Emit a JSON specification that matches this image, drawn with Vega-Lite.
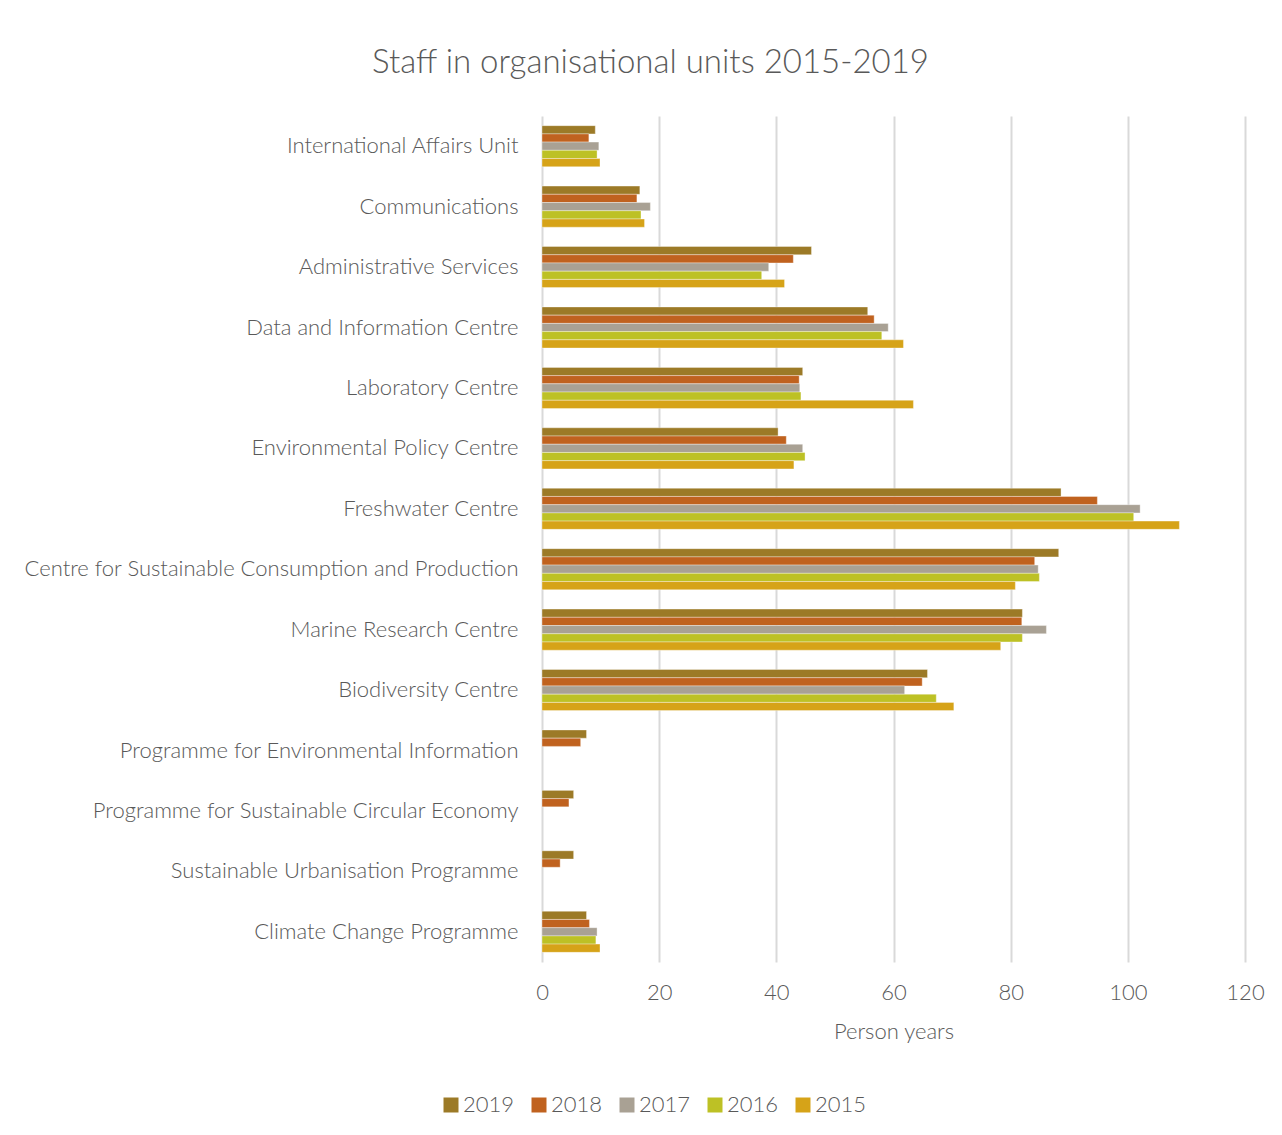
{
  "$schema": "https://vega.github.io/schema/vega-lite/v6.json",
  "autosize": {"type": "none"},
  "width": 703,
  "height": 846,
  "padding": {"left": 542, "top": 116, "right": 37, "bottom": 173},
  "background": "white",
  "title": {
    "text": "Staff in organisational units 2015-2019",
    "fontSize": 33,
    "font": "Lato",
    "fontWeight": 300,
    "color": "#595959",
    "anchor": "middle",
    "dx": -243,
    "offset": 36
  },
  "data": {
    "values": [
      {"unit": "International Affairs Unit", "year": "2019", "value": 9.1},
      {"unit": "International Affairs Unit", "year": "2018", "value": 8.0},
      {"unit": "International Affairs Unit", "year": "2017", "value": 9.7},
      {"unit": "International Affairs Unit", "year": "2016", "value": 9.4},
      {"unit": "International Affairs Unit", "year": "2015", "value": 9.9},
      {"unit": "Communications", "year": "2019", "value": 16.7},
      {"unit": "Communications", "year": "2018", "value": 16.2},
      {"unit": "Communications", "year": "2017", "value": 18.5},
      {"unit": "Communications", "year": "2016", "value": 16.9},
      {"unit": "Communications", "year": "2015", "value": 17.5},
      {"unit": "Administrative Services", "year": "2019", "value": 46.0},
      {"unit": "Administrative Services", "year": "2018", "value": 42.9},
      {"unit": "Administrative Services", "year": "2017", "value": 38.7},
      {"unit": "Administrative Services", "year": "2016", "value": 37.5},
      {"unit": "Administrative Services", "year": "2015", "value": 41.4},
      {"unit": "Data and Information Centre", "year": "2019", "value": 55.6},
      {"unit": "Data and Information Centre", "year": "2018", "value": 56.7},
      {"unit": "Data and Information Centre", "year": "2017", "value": 59.1},
      {"unit": "Data and Information Centre", "year": "2016", "value": 58.0},
      {"unit": "Data and Information Centre", "year": "2015", "value": 61.7},
      {"unit": "Laboratory Centre", "year": "2019", "value": 44.5},
      {"unit": "Laboratory Centre", "year": "2018", "value": 43.9},
      {"unit": "Laboratory Centre", "year": "2017", "value": 44.0},
      {"unit": "Laboratory Centre", "year": "2016", "value": 44.2},
      {"unit": "Laboratory Centre", "year": "2015", "value": 63.4},
      {"unit": "Environmental Policy Centre", "year": "2019", "value": 40.3},
      {"unit": "Environmental Policy Centre", "year": "2018", "value": 41.7},
      {"unit": "Environmental Policy Centre", "year": "2017", "value": 44.5},
      {"unit": "Environmental Policy Centre", "year": "2016", "value": 44.9},
      {"unit": "Environmental Policy Centre", "year": "2015", "value": 43.0},
      {"unit": "Freshwater Centre", "year": "2019", "value": 88.6},
      {"unit": "Freshwater Centre", "year": "2018", "value": 94.8},
      {"unit": "Freshwater Centre", "year": "2017", "value": 102.1},
      {"unit": "Freshwater Centre", "year": "2016", "value": 101.0},
      {"unit": "Freshwater Centre", "year": "2015", "value": 108.8},
      {"unit": "Centre for Sustainable Consumption and Production", "year": "2019", "value": 88.2},
      {"unit": "Centre for Sustainable Consumption and Production", "year": "2018", "value": 84.1},
      {"unit": "Centre for Sustainable Consumption and Production", "year": "2017", "value": 84.7},
      {"unit": "Centre for Sustainable Consumption and Production", "year": "2016", "value": 84.9},
      {"unit": "Centre for Sustainable Consumption and Production", "year": "2015", "value": 80.8},
      {"unit": "Marine Research Centre", "year": "2019", "value": 82.0},
      {"unit": "Marine Research Centre", "year": "2018", "value": 81.9},
      {"unit": "Marine Research Centre", "year": "2017", "value": 86.1},
      {"unit": "Marine Research Centre", "year": "2016", "value": 82.0},
      {"unit": "Marine Research Centre", "year": "2015", "value": 78.3},
      {"unit": "Biodiversity Centre", "year": "2019", "value": 65.8},
      {"unit": "Biodiversity Centre", "year": "2018", "value": 64.9},
      {"unit": "Biodiversity Centre", "year": "2017", "value": 61.9},
      {"unit": "Biodiversity Centre", "year": "2016", "value": 67.3},
      {"unit": "Biodiversity Centre", "year": "2015", "value": 70.3},
      {"unit": "Programme for Environmental Information", "year": "2019", "value": 7.6},
      {"unit": "Programme for Environmental Information", "year": "2018", "value": 6.6},
      {"unit": "Programme for Sustainable Circular Economy", "year": "2019", "value": 5.4},
      {"unit": "Programme for Sustainable Circular Economy", "year": "2018", "value": 4.6},
      {"unit": "Sustainable Urbanisation Programme", "year": "2019", "value": 5.4},
      {"unit": "Sustainable Urbanisation Programme", "year": "2018", "value": 3.1},
      {"unit": "Climate Change Programme", "year": "2019", "value": 7.6},
      {"unit": "Climate Change Programme", "year": "2018", "value": 8.1},
      {"unit": "Climate Change Programme", "year": "2017", "value": 9.4},
      {"unit": "Climate Change Programme", "year": "2016", "value": 9.2},
      {"unit": "Climate Change Programme", "year": "2015", "value": 9.9}
    ]
  },
  "mark": {"type": "bar", "stroke": "white", "strokeWidth": 0.6, "strokeOpacity": 0.6},
  "encoding": {
    "y": {
      "field": "unit",
      "type": "nominal",
      "sort": null,
      "scale": {"paddingInner": 0.32, "paddingOuter": 0.16},
      "axis": {
        "title": null,
        "domain": false,
        "ticks": false,
        "labelPadding": 24,
        "labelLimit": 700,
        "labelFontSize": 22,
        "labelFont": "Lato",
        "labelFontWeight": 300,
        "labelColor": "#595959"
      }
    },
    "yOffset": {
      "field": "year",
      "type": "nominal",
      "scale": {"domain": ["2019", "2018", "2017", "2016", "2015"], "paddingInner": 0, "paddingOuter": 0}
    },
    "x": {
      "field": "value",
      "type": "quantitative",
      "scale": {"domain": [0, 120], "nice": false},
      "axis": {
        "title": "Person years",
        "values": [0, 20, 40, 60, 80, 100, 120],
        "domain": false,
        "ticks": false,
        "grid": true,
        "gridColor": "#d9d9d9",
        "gridWidth": 2,
        "labelFlush": false,
        "labelPadding": 20,
        "labelFontSize": 22,
        "labelFont": "Lato",
        "labelFontWeight": 300,
        "labelColor": "#595959",
        "titleFontSize": 22,
        "titleFont": "Lato",
        "titleFontWeight": 300,
        "titleColor": "#595959",
        "titlePadding": 18
      }
    },
    "color": {
      "field": "year",
      "type": "nominal",
      "scale": {
        "domain": ["2019", "2018", "2017", "2016", "2015"],
        "range": ["#9C7A27", "#C0621F", "#A9A194", "#BDC125", "#D6A318"]
      },
      "legend": {
        "title": null,
        "orient": "none",
        "direction": "horizontal",
        "legendX": -102,
        "legendY": 978,
        "symbolType": "square",
        "symbolSize": 225,
        "symbolStrokeWidth": 0,
        "labelFontSize": 22,
        "labelFont": "Lato",
        "labelFontWeight": 300,
        "labelColor": "#595959",
        "labelOffset": 1,
        "columnPadding": 13
      }
    }
  },
  "config": {"view": {"stroke": null}}
}
